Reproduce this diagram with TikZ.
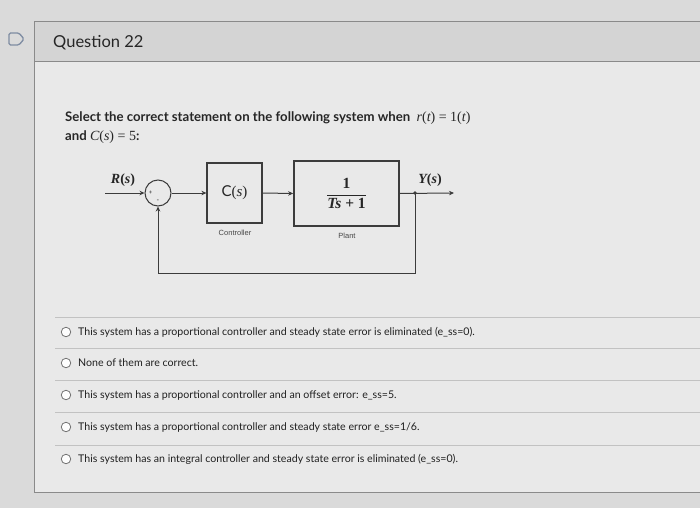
\documentclass[tikz,border=0pt]{standalone}
\usepackage{amsmath}
\usepackage{fontspec}
\setmainfont{Lato}
\setsansfont{Liberation Sans}
\newfontfamily\mfont{Liberation Serif}
\newcommand\myvar[1]{{\mfont\itshape #1}}
\newcommand\myup[1]{{\mfont #1}}
\usetikzlibrary{arrows.meta}
\definecolor{bgout}{HTML}{DADADA}
\definecolor{cardbg}{HTML}{E9E9E9}
\definecolor{headbg}{HTML}{D4D4D4}
\definecolor{border}{HTML}{8A8A8A}
\definecolor{sepl}{HTML}{C2C2C2}
\definecolor{ink}{HTML}{262626}
\definecolor{lineink}{HTML}{3C3C3C}
\definecolor{iconc}{HTML}{7E8CA2}
\begin{document}
\begin{tikzpicture}[x=1pt,y=-1pt,
  txt/.style={anchor=base west,inner sep=0,text=ink},
  optxt/.style={anchor=base west,inner sep=0,text=ink!85!black,font=\fontsize{10.6}{13}\selectfont},
  radio/.style={draw=gray!90!black,fill=white!90!cardbg,circle,minimum size=9.5,inner sep=0,line width=0.8},
  sepline/.style={draw=sepl,line width=0.8},
  blk/.style={draw=lineink,line width=1.2,inner sep=0,text=ink},
  arr/.style={draw=lineink,line width=1,-{Stealth[length=5pt,width=4.5pt]}},
  lbl/.style={font=\sffamily\fontsize{7.5}{9}\selectfont,text=ink!85,inner sep=0},
  qtxt/.style={anchor=base west,inner sep=0,text=ink,font=\fontsize{13.2}{15}\selectfont\bfseries}
]
\useasboundingbox (0,0) rectangle (700,508);
\fill[bgout] (0,0) rectangle (700,508);
\fill[cardbg] (34,21) rectangle (700,492);
\fill[headbg] (34,21) rectangle (700,61);
\draw[border,line width=0.9] (700,21) -- (34,21) -- (34,492) -- (700,492);
\draw[border,line width=0.9] (34,61) -- (700,61);
% icon
\draw[iconc,line width=1.3,rounded corners=1.5] (9,33) -- (19,33) -- (24,39) -- (19,45) -- (9,45) -- cycle;
\node[txt,font=\fontsize{16.5}{19}\selectfont] (title) at (53,47.5) {Question 22};
% question text
\node[qtxt] (q1) at (65,121.5) {Select the correct statement on the following system when \ {\mdseries\fontsize{14}{15}\selectfont\myvar{r}\myup{(}\myvar{t}\myup{) = 1(}\myvar{t}\myup{)}}};
\node[qtxt] (q2) at (65,140.5) {and {\mdseries\fontsize{14}{15}\selectfont\myvar{C}\myup{(}\myvar{s}\myup{) = 5}}:};
% block diagram
\node[circle,draw=lineink,line width=1,minimum size=26,inner sep=0] (sum) at (158,193) {};
\node[font=\fontsize{6}{6}\selectfont,inner sep=0,text=ink] (plus) at (150.5,192.5) {+};
\node[font=\fontsize{7}{7}\selectfont,inner sep=0,text=ink] (minus) at (158,201.5) {-};
\node[blk,minimum width=55,minimum height=60,font=\fontsize{15}{17}\selectfont] (ctrl) at (234.5,193) {C\myup{(}\myvar{s}\myup{)}};
\node[blk,line width=1.7,minimum width=105,minimum height=65,font=\fontsize{15.5}{17}\selectfont\mfont\bfseries] (plant) at (346.5,193.5) {$\dfrac{\text{1}}{\text{\itshape Ts\/\upshape\ + 1}}$};
\node[lbl] (cl) at (235,232.5) {Controller};
\node[lbl] (pl) at (347,236) {Plant};
\node[inner sep=0,text=ink,font=\fontsize{14}{15}\selectfont\bfseries] (rl) at (123,180) {\myvar{R}\myup{(}\myvar{s}\myup{)}};
\node[inner sep=0,text=ink,font=\fontsize{14}{15}\selectfont\bfseries] (yl) at (430,180.5) {\myvar{Y}\myup{(}\myvar{s}\myup{)}};
\coordinate (in) at (105,193);
\coordinate (out) at (454,193);
\coordinate (br) at (415,193);
\coordinate (fbr) at (415,273);
\draw[arr] (in) -- (sum.west);
\draw[arr] (sum.east) -- (ctrl.west);
\draw[arr] (ctrl.east) -- (plant.west);
\draw[arr] (plant.east) -- (out);
\draw[arr] (br) -- (fbr) -| (sum.south);
\fill[lineink] (br) circle (1.8);
% options
\draw[sepline] (55,317) -- (700,317);
\draw[sepline] (55,348) -- (700,348);
\draw[sepline] (55,380) -- (700,380);
\draw[sepline] (55,412) -- (700,412);
\draw[sepline] (55,445) -- (700,445);
\node[radio] (r1) at (66,332) {};
\node[radio] (r2) at (66,363) {};
\node[radio] (r3) at (66,395) {};
\node[radio] (r4) at (66,427) {};
\node[radio] (r5) at (66,459) {};
\node[optxt] (o1) at (78,335.5) {This system has a proportional controller and steady state error is eliminated (e\_ss=0).};
\node[optxt] (o2) at (78,366.5) {None of them are correct.};
\node[optxt] (o3) at (78,398.5) {This system has a proportional controller and an offset error: e\_ss=5.};
\node[optxt] (o4) at (78,430.5) {This system has a proportional controller and steady state error e\_ss=1/6.};
\node[optxt] (o5) at (78,462.5) {This system has an integral controller and steady state error is eliminated (e\_ss=0).};
\end{tikzpicture}
\end{document}
